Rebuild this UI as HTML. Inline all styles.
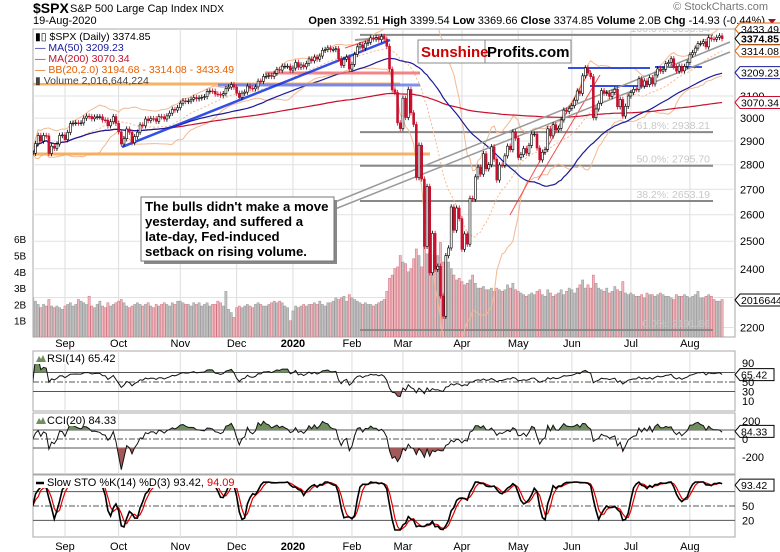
<!DOCTYPE html>
<html><head><meta charset="utf-8">
<style>
html,body{margin:0;padding:0;background:#fff;}
svg{display:block;font-family:"Liberation Sans",sans-serif;}
</style></head>
<body>
<svg id="chart" width="780" height="552" viewBox="0 0 780 552" xmlns="http://www.w3.org/2000/svg">
<defs>
<clipPath id="mainClip"><rect x="33" y="29" width="702" height="308"/></clipPath>
<clipPath id="rsiClip"><rect x="33" y="351" width="702" height="60"/></clipPath>
<clipPath id="cciClip"><rect x="33" y="413" width="702" height="61"/></clipPath>
<clipPath id="stoClip"><rect x="33" y="475" width="702" height="62"/></clipPath>
</defs>
<g>
<text x="33" y="13" font-size="14" font-weight="bold">$SPX</text>
<text x="70" y="12" font-size="11">S&amp;P 500 Large Cap Index</text>
<text x="200" y="12" font-size="10">INDX</text>
<text x="33" y="24" font-size="11">19-Aug-2020</text>
<text x="768" y="10" font-size="11" fill="#777" text-anchor="end">© StockCharts.com</text>
<text x="765" y="24" font-size="11" text-anchor="end"><tspan font-weight="bold">Open</tspan> 3392.51 <tspan font-weight="bold">High</tspan> 3399.54 <tspan font-weight="bold">Low</tspan> 3369.66 <tspan font-weight="bold">Close</tspan> 3374.85 <tspan font-weight="bold">Volume</tspan> 2.0B <tspan font-weight="bold">Chg</tspan> -14.93 (-0.44%)</text>
<path d="M768,19 l8,0 l-4,5 z" fill="#a01030"/>
</g>
<g id="grid"></g>
<g id="mainPanel" clip-path="url(#mainClip)"></g>
<g id="overlay"></g>
<g id="axes"></g>
<g id="rsiPanel"></g>
<g id="cciPanel"></g>
<g id="stoPanel"></g>
</svg>
<script>
const closes=[2848,2889,2924,2900,2924,2922,2847,2878,2869,2887,2924,2926,
2906,2937,2976,2978,2979,2978,2979,3000,3009,3007,2997,3005,3006,3006,2992,2991,2966,2984,3007,2977,
2940,2887,2910,2952,2938,2893,2919,2938,2970,2966,2996,2989,2998,2997,2986,3007,3006,2996,3010,3022,3039,3036,3047,
3067,3078,3075,3077,3085,3093,3087,3091,3094,3097,3120,3123,3122,3109,3108,3104,3111,3134,3141,3153,3141,
3113,3093,3113,3118,3146,3136,3133,3142,3169,3168,3191,3192,3196,3191,3206,3224,3221,3240,3240,3240,3221,
3231,3258,3235,3246,3237,3253,3275,3266,3284,3274,3289,3317,3321,3329,3320,3321,3325,3276,3244,3273,3284,3226,
3249,3297,3334,3345,3328,3352,3357,3379,3373,3380,3370,3386,3373,3337,3226,3128,3116,2979,2954,
3090,3003,3130,3024,2972,2747,2882,2741,2481,2711,2386,2529,2398,2409,2305,2237,2447,2475,2630,2541,2626,2585,
2470,2527,2489,2664,2660,2750,2790,2761,2846,2783,2800,2875,2823,2737,2799,2797,2837,2878,2863,2939,2912,
2830,2842,2868,2848,2881,2930,2930,2870,2820,2852,2864,2953,2922,2971,2948,2955,2992,3036,3030,3044,
3056,3081,3123,3112,3194,3232,3207,3190,3002,3041,3067,3125,3113,3115,3098,3117,3131,3051,3084,3009,3053,3100,
3116,3131,3130,3180,3146,3170,3153,3185,3156,3198,3227,3216,3225,3252,3258,3276,3236,3216,3240,3218,3239,3258,
3295,3306,3328,3350,3351,3360,3334,3380,3373,3372,3381,3389,3375];
const volumes=[2.4,2.2,2.0,1.8,2.0,1.9,2.3,1.9,1.8,1.9,1.8,1.7,
1.9,2.0,2.1,1.9,2.0,2.3,2.2,2.1,2.0,2.5,1.9,1.8,2.0,2.2,1.9,1.8,2.1,1.9,2.0,2.1,
2.2,2.3,2.1,1.9,1.8,1.9,2.0,2.1,2.0,1.9,2.0,2.1,1.9,1.8,2.0,1.9,2.0,2.1,2.0,1.9,2.1,2.0,2.2,
2.2,2.1,2.0,2.0,1.9,2.1,2.0,2.1,1.9,2.0,2.1,1.9,2.0,2.0,2.2,2.1,1.9,2.8,1.7,1.5,1.2,
1.8,1.9,1.8,1.9,2.0,1.9,1.8,2.0,2.1,2.0,1.9,1.9,2.0,2.1,2.2,2.1,2.2,2.1,1.9,1.8,1.0,
1.6,1.9,1.8,1.9,2.0,1.9,2.0,2.0,2.1,2.0,2.2,2.0,1.9,2.1,2.1,2.2,2.4,2.3,2.4,2.5,2.2,2.6,
2.4,2.3,2.2,2.1,2.0,2.1,2.0,2.0,1.9,2.0,2.1,2.2,2.3,2.8,3.6,3.8,4.2,4.3,5.0,
4.6,4.5,4.0,4.2,4.8,5.4,5.0,4.3,5.6,5.1,5.2,5.0,5.3,5.0,5.8,4.6,5.0,4.6,4.2,3.8,3.5,3.6,
3.4,3.2,3.3,3.5,3.8,3.3,3.0,3.0,3.1,2.9,2.9,3.0,2.8,3.0,2.9,2.8,2.9,3.2,3.0,3.3,2.9,
2.8,2.7,2.6,2.5,2.6,2.7,2.6,2.8,2.9,2.6,2.5,2.9,2.7,2.5,2.6,2.7,2.9,2.6,2.8,3.0,
2.9,2.7,3.0,3.2,3.5,3.0,3.2,3.0,3.8,3.3,3.0,2.9,2.8,3.0,2.7,2.8,3.1,2.9,2.8,3.4,2.7,2.6,
2.7,2.6,2.5,2.5,2.6,2.4,2.7,2.6,2.6,2.5,2.6,2.7,2.6,2.5,2.5,2.4,2.3,2.6,2.5,2.5,2.6,2.5,
2.4,2.5,2.6,2.8,2.4,2.4,2.5,2.6,2.5,2.3,2.2,2.2,2.3];
const monthLabels=['Sep','Oct','Nov','Dec','2020','Feb','Mar','Apr','May','Jun','Jul','Aug'];
const monthIdx=[12,32,55,76,97,119,138,160,181,201,223,245];
const priceTicks=[2200,2300,2400,2500,2600,2700,2800,2900,3000,3100];
const volTicks=[1,2,3,4,5,6];
const fibLevels=[3393.54,2938.21,2795.70,2653.19,2191.86];
const fibLabels=['100.0%: 3393.54','61.8%: 2938.21','50.0%: 2795.70','38.2%: 2653.19','0.0%: 2191.86'];
const rsiTicks=[90,50,30,10];
const cciTicks=[200,0,-200];
const stoTicks=[50,20];

const NS='http://www.w3.org/2000/svg';
function mk(tag,attrs,parent,txt){const e=document.createElementNS(NS,tag);for(const k in attrs)e.setAttribute(k,attrs[k]);if(txt!==undefined)e.textContent=txt;parent.appendChild(e);return e;}
const X0=32.8,STEP=2.682;
function xi(i){return X0+i*STEP;}
function py(p){return 96+(Math.log(3100)-Math.log(p))*675;}
function vy(v){return 337-v*16.3;}
function rsiY(v){return 382-(v-50)*0.475;}
function cciY(v){return 439-v*0.09;}
function stoY(v){return 506-(v-50)*0.48;}
const N=closes.length;
function sma(arr,n){return arr.map((_,i)=>{const s=Math.max(0,i-n+1);let t=0,c=0;for(let j=s;j<=i;j++){if(arr[j]!=null){t+=arr[j];c++;}}return c?t/c:null;});}
function std(arr,n){const m=sma(arr,n);return arr.map((_,i)=>{const s=Math.max(0,i-n+1);let t=0;for(let j=s;j<=i;j++)t+=(arr[j]-m[i])**2;return Math.sqrt(t/(i-s+1));});}
function linePath(vals,fx,fy){let d='';vals.forEach((v,i)=>{if(v==null)return;d+=(d?'L':'M')+fx(i).toFixed(1)+','+fy(v).toFixed(1);});return d;}

const grid=document.getElementById('grid');
const main=document.getElementById('mainPanel');
const ov=document.getElementById('overlay');
const axes=document.getElementById('axes');

[[29,308,'main-panel-frame'],[351,60,'rsi-panel-frame'],[413,61,'cci-panel-frame'],[475,62,'sto-panel-frame']].forEach(p=>{
 const r=mk('rect',{x:33,y:p[0],width:702,height:p[1],fill:'#fff',stroke:'#aaa','stroke-width':1},grid);
 
 
});
monthIdx.forEach((mi,k)=>{
 [[29,337],[351,411],[413,474],[475,537]].forEach(r=>{
  const l=mk('line',{x1:xi(mi),x2:xi(mi),y1:r[0],y2:r[1],stroke:'#ddd'},grid);
  
  
 });
 [343,546].forEach(yy=>{
  const t=mk('text',{x:xi(mi),y:yy+4,'font-size':11,'text-anchor':'middle','font-weight':monthLabels[k]==='2020'?'bold':'normal'},axes,monthLabels[k]);
  
  
 });
});
priceTicks.forEach(p=>{
 const l=mk('line',{x1:33,x2:735,y1:py(p),y2:py(p),stroke:'#e2e2e2'},grid);
 
 
 const t=mk('text',{x:740,y:py(p)+4,'font-size':11},axes,String(p));
 
 
});
volTicks.forEach(v=>{
 const t=mk('text',{x:14,y:vy(v)+4,'font-size':10},axes,v+'B');
 
 
});

closes.forEach((c,i)=>{
 const down=i>0&&c<closes[i-1];
 const b=mk('rect',{x:xi(i)-1.1,y:vy(volumes[i]),width:2.2,height:337-vy(volumes[i]),fill:down?'#f0b8bc':'#c0c0c0',stroke:down?'#d07080':'#999','stroke-width':0.5},main);
 
 
});
fibLevels.forEach((f,k)=>{
 const l=mk('line',{x1:360,x2:713,y1:py(f),y2:py(f),stroke:'#888','stroke-width':2},main);
 
 
 const t=mk('text',{x:710,y:py(f)-3,'font-size':10.5,fill:'#c8c8c8','text-anchor':'end'},main,fibLabels[k]);
 
 
});
const ma20=sma(closes,20),sd20=std(closes,20);
const bbU=ma20.map((m,i)=>m+2*sd20[i]),bbL=ma20.map((m,i)=>m-2*sd20[i]);
const ma50=sma(closes,50),ma200=sma(closes,200);
[[bbU,'#f4b890',1,'','bb-upper'],[bbL,'#f4b890',1,'','bb-lower'],[ma20,'#f4b890',1,'2,2','bb-middle'],[ma200,'#c8102e',1.2,'','ma200-line'],[ma50,'#1a1a9a',1.2,'','ma50-line']].forEach(s=>{
 const p=mk('path',{d:linePath(s[0],xi,py),fill:'none',stroke:s[1],'stroke-width':s[2],'stroke-dasharray':s[3]},main);
 
 
});
const ann=[
 [0,84,400,84,'#f5a54a',3,'resistance-line-upper'],[0,154,430,154,'#f5a54a',3,'support-line-orange'],
 [265,73,420,73,'#f07070',3,'red-zone-line'],[218,85,420,85,'#6a7cf0',3,'blue-zone-line'],
 [122,147,390,40,'#1030e0',2.5,'blue-trendline'],[345,48,385,35,'#f03030',1,'red-trendline-feb'],
 [355,40,382,38,'#888',2,'top-gray-line'],
 [510,215,590,70,'#f03030',1,'red-rally-line'],[538,180,600,75,'#f03030',1,'red-rally-line-2'],
 [568,68,650,68,'#1030e0',2,'blue-resistance-jun'],[590,86,648,86,'#1030e0',2,'blue-support-jun'],
 [655,67,702,67,'#1030e0',2,'blue-resistance-jul']
];
ann.forEach(a=>{
 const l=mk('line',{x1:a[0],y1:a[1],x2:a[2],y2:a[3],stroke:a[4],'stroke-width':a[5],'stroke-opacity':0.85},main);
 
 
});
const ch=mk('path',{d:'M335,202 L730,42 M335,209 L730,52',stroke:'#999','stroke-width':1.5,fill:'none'},main);


closes.forEach((c,i)=>{
 const o=i>0?closes[i-1]:c;const up=c>=o;
 const hi=Math.max(o,c)*1.004,lo=Math.min(o,c)*0.996;
 const g=mk('g',{},main);
 
 
 mk('line',{x1:xi(i),x2:xi(i),y1:py(hi),y2:py(lo),stroke:up?'#000':'#c8102e','stroke-width':0.8},g);
 const top=py(Math.max(o,c)),bot=py(Math.min(o,c));
 mk('rect',{x:xi(i)-1,y:top,width:2,height:Math.max(0.8,bot-top),fill:up?'#fff':'#c8102e',stroke:up?'#000':'#c8102e','stroke-width':0.6},g);
});
const leg=[['▮▯ $SPX (Daily) 3374.85','#000'],['— MA(50) 3209.23','#1a1a9a'],['— MA(200) 3070.34','#c8102e'],['— BB(20,2.0) 3194.68 - 3314.08 - 3433.49','#e86000'],['▮ Volume 2,016,644,224','#444']];
mk('rect',{x:34,y:30,width:105,height:53,fill:'#fff','fill-opacity':0.85},ov);
leg.forEach((l,k)=>{
 const t=mk('text',{x:35,y:40+k*11,'font-size':10.5,fill:l[1]},ov,l[0]);
 
 
});
const logo=mk('g',{},ov);


mk('rect',{x:418,y:40,width:153,height:23,fill:'#fff',stroke:'#888','stroke-width':1},logo);
mk('line',{x1:485,x2:485,y1:40,y2:63,stroke:'#888'},logo);
mk('text',{x:421,y:57,'font-size':15,'font-weight':'bold',fill:'#d00000'},logo,'Sunshine');
mk('text',{x:487,y:57,'font-size':15,'font-weight':'bold',fill:'#000'},logo,'Profits.com');
const cb=mk('g',{},ov);


mk('rect',{x:144,y:200,width:193,height:64,fill:'#888'},cb);
mk('rect',{x:141,y:197,width:193,height:64,fill:'#fff',stroke:'#777'},cb);
['The bulls didn\'t make a move','yesterday, and suffered a','late-day, Fed-induced','setback on rising volume.'].forEach((s,k)=>{
 mk('text',{x:145,y:211+k*15,'font-size':13.2,'font-weight':'bold'},cb,s);
});
function tag(y,txt,col,bold,name,w){
 const g=mk('g',{},axes);
 
 
 w=w||42;
 mk('path',{d:`M735,${y} l5,-6 h${w} v12 h-${w} z`,fill:'#fff',stroke:col,'stroke-width':1},g);
 mk('text',{x:741,y:y+4,'font-size':10.5,'font-weight':bold?'bold':'normal'},g,txt);
}
tag(29,'3433.49','#e86000',false,'bb-upper-tag');
tag(py(3374.85),'3374.85','#000',true,'close-tag');
tag(py(3314.08),'3314.08','#e86000',false,'bb-middle-tag');
tag(py(3209.23),'3209.23','#1a1a9a',false,'ma50-tag');
tag(py(3070.34),'3070.34','#c8102e',false,'ma200-tag');
tag(300,'2016644','#000',false,'volume-tag');

const rsi=[50];{let ag=0,al=0;for(let i=1;i<N;i++){const d=closes[i]-closes[i-1],g=Math.max(d,0),l=Math.max(-d,0);if(i<=14){ag=(ag*(i-1)+g)/i;al=(al*(i-1)+l)/i;}else{ag=(ag*13+g)/14;al=(al*13+l)/14;}rsi.push(al===0?100:100-100/(1+ag/al));}}
const ma20c=sma(closes,20);
const cci=closes.map((c,i)=>{const s=Math.max(0,i-19);let md=0;for(let j=s;j<=i;j++)md+=Math.abs(closes[j]-ma20c[i]);md/=(i-s+1);return md===0?0:(c-ma20c[i])/(0.015*md);});
const fastK=closes.map((c,i)=>{const s=Math.max(0,i-13);const w=closes.slice(s,i+1);const mn=Math.min(...w),mx=Math.max(...w);return mx===mn?50:(c-mn)/(mx-mn)*100;});
const slowK=sma(fastK,3),slowD=sma(slowK,3);

function indPanel(gid,clip,vals,fy,hi,lo,mid,ticks,name){
 const g=document.getElementById(gid);
 const cg=mk('g',{'clip-path':`url(#${clip})`},g);
 [hi,lo].forEach(v=>{const l=mk('line',{x1:33,x2:735,y1:fy(v),y2:fy(v),stroke:'#555'},cg);});
 const m=mk('line',{x1:33,x2:735,y1:fy(mid),y2:fy(mid),stroke:'#555','stroke-dasharray':'6,2,2,2'},cg);
 
 
 if(vals){
  const d=linePath(vals,xi,fy);
  const yH=fy(hi),yL=fy(lo);
  const cid1=gid+'H',cid2=gid+'L';
  const defs=document.querySelector('defs');
  mk('rect',{x:33,y:0,width:702,height:yH},mk('clipPath',{id:cid1},defs));
  mk('rect',{x:33,y:yL,width:702,height:200},mk('clipPath',{id:cid2},defs));
  const a1=mk('path',{d:d+`L${xi(N-1)},${yH}L${xi(0)},${yH}Z`,fill:'#6f8f5f','clip-path':`url(#${cid1})`},cg);
  
  
  const a2=mk('path',{d:d+`L${xi(N-1)},${yL}L${xi(0)},${yL}Z`,fill:'#a05a5a','clip-path':`url(#${cid2})`},cg);
  
  
  const ln=mk('path',{d:d,fill:'none',stroke:'#111','stroke-width':1},cg);
  
  
 }
 ticks.forEach(v=>{const t=mk('text',{x:742,y:fy(v)+4,'font-size':11},g,String(v));});
 return g;
}
const rg=indPanel('rsiPanel','rsiClip',rsi,rsiY,70,30,50,rsiTicks,'rsi');
mk('rect',{x:34,y:352,width:82,height:12,fill:'#fff'},rg);
mk('path',{d:'M36,362 l3,-6 l2,3 l2,-4 l3,7 z',fill:'#6f8f5f'},rg);
const rt=mk('text',{x:47,y:362,'font-size':11},rg,'RSI(14) 65.42');
tag(rsiY(65.42),'65.42','#000',false,'rsi-value-tag',34);

const cg2=indPanel('cciPanel','cciClip',cci,cciY,100,-100,0,cciTicks,'cci');
mk('rect',{x:34,y:414,width:84,height:12,fill:'#fff'},cg2);
mk('path',{d:'M36,424 l3,-6 l2,3 l2,-4 l3,7 z',fill:'#6f8f5f'},cg2);
const ct=mk('text',{x:47,y:424,'font-size':11},cg2,'CCI(20) 84.33');
tag(cciY(84.33),'84.33','#000',false,'cci-value-tag',34);

const sg=indPanel('stoPanel','stoClip',null,stoY,80,20,50,stoTicks,'sto');
const sc=mk('g',{'clip-path':'url(#stoClip)'},sg);
const dl=mk('path',{d:linePath(slowD,xi,stoY),fill:'none',stroke:'#e00000','stroke-width':1.2},sc);

const kl=mk('path',{d:linePath(slowK,xi,stoY),fill:'none',stroke:'#000','stroke-width':1.6},sc);

mk('rect',{x:34,y:476,width:206,height:12,fill:'#fff'},sg);
mk('line',{x1:36,x2:44,y1:483,y2:483,stroke:'#000','stroke-width':2.5},sg);
const st=mk('text',{x:47,y:486,'font-size':11},sg);

mk('tspan',{},st,'Slow STO %K(14) %D(3) 93.42, ');mk('tspan',{fill:'#e00000'},st,'94.09');
tag(stoY(93.42),'93.42','#000',false,'sto-value-tag',34);
</script>
</body></html>
